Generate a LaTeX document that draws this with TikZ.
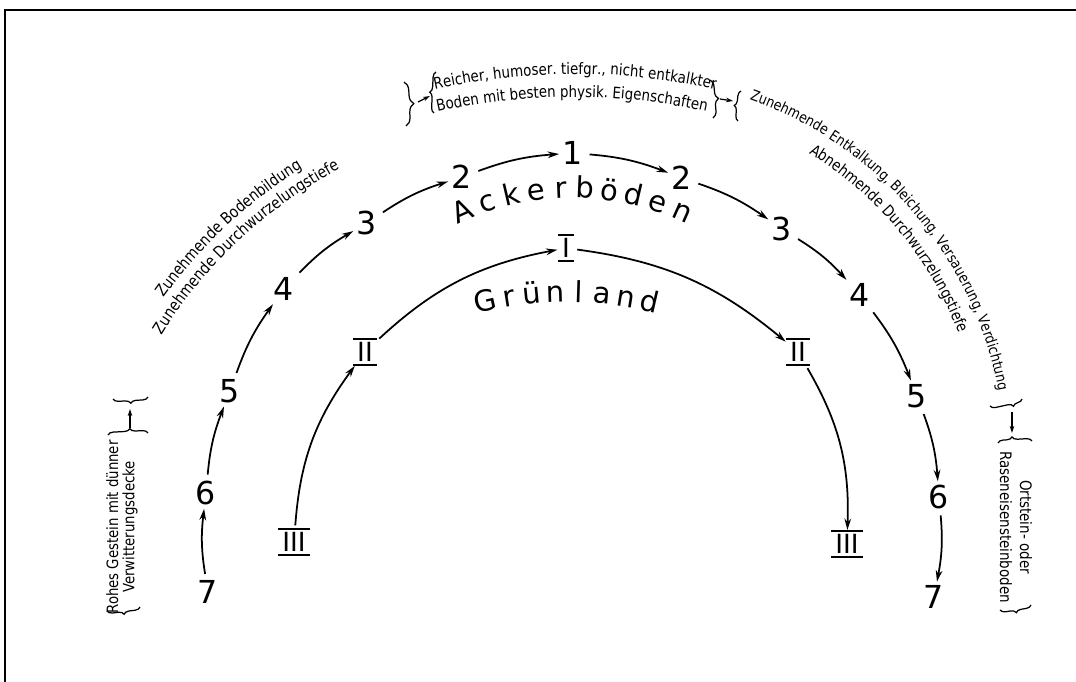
\documentclass[tikz,border=0pt]{standalone}
\usepackage{fontspec}
\setmainfont{DejaVu Sans}
\newfontfamily\hand[FakeStretch=0.85]{DejaVu Sans}
\usetikzlibrary{arrows.meta,decorations.text,decorations.pathreplacing,calc}
\newcommand{\fntTop}{\hand\fontsize{9}{10}\selectfont}
\newcommand{\fntLeft}{\hand\fontsize{9.2}{11}\selectfont}
\newcommand{\fntRa}{\hand\fontsize{8.4}{10}\selectfont}
\newcommand{\fntRb}{\hand\fontsize{8.9}{10}\selectfont}
\newcommand{\fntSide}{\hand\fontsize{8.9}{9.3}\selectfont}
\newcommand{\fntOrt}{\hand\fontsize{9}{11.3}\selectfont}
\begin{document}
\begin{tikzpicture}[x=0.02cm,y=-0.02cm,
  num/.style={font=\fontsize{18}{18}\selectfont, inner sep=1.5pt},
  rom/.style={font=\fontsize{15}{15}\selectfont, inner xsep=2pt, inner ysep=1.8pt,
    append after command={\pgfextra{\let\romnode\tikzlastnode}
      (\romnode.north west) edge[line width=1.4pt] (\romnode.north east)
      (\romnode.south west) edge[line width=1.4pt] (\romnode.south east)}},
  arr/.style={-{Stealth[length=6.5pt,width=3.8pt]}, line width=1pt, shorten <=2pt, shorten >=0.5pt},
  sarr/.style={-{Stealth[length=4pt,width=2.6pt]}, line width=0.7pt},
  brc/.style={decorate, decoration={brace, amplitude=#1}, line width=0.7pt},
  brc/.default=3pt,
  big/.style={font=\fontsize{16.5}{16.5}\selectfont, inner sep=0pt, anchor=base},
]
\useasboundingbox (0,0) rectangle (1076,682);
\fill[white] (0,0) rectangle (1076,682);
\draw[line width=1.1pt] (5,682) -- (5,10) -- (1076,10);

% outer chain (Ackerboeden)
\node[num] (o7L) at (208,592) {7};
\node[num] (o6L) at (206,493) {6};
\node[num] (o5L) at (230,391) {5};
\node[num] (o4L) at (284,289) {4};
\node[num] (o3L) at (367,223) {3};
\node[num] (o2L) at (462,177) {2};
\node[num] (o1) at (573,153) {1};
\node[num] (o2R) at (682,178) {2};
\node[num] (o3R) at (782,229) {3};
\node[num] (o4R) at (860,295) {4};
\node[num] (o5R) at (917,396) {5};
\node[num] (o6R) at (939,497) {6};
\node[num] (o7R) at (934,597) {7};

% inner chain (Gruenland)
\node[rom] (g3L) at (294,542) {III};
\node[rom] (g2L) at (365,352) {II};
\node[rom] (g1) at (566,248) {I};
\node[rom] (g2R) at (798,352) {II};
\node[rom] (g3R) at (847,544) {III};

\foreach \a/\b in {o7L/o6L,o6L/o5L,o5L/o4L,o4L/o3L,o3L/o2L,o2L/o1,o1/o2R,o2R/o3R,o3R/o4R,o4R/o5R,o5R/o6R,o6R/o7R}
  \draw[arr] (\a) to[bend left=8] (\b);
\foreach \a/\b in {g3L/g2L,g2L/g1,g1/g2R,g2R/g3R}
  \draw[arr] (\a) to[bend left=16] (\b);

% curved big labels
\foreach \ch [count=\i] in {A,c,k,e,r,b,ö,d,e,n}{
  \pgfmathsetmacro\px{467+(\i-1)*23.5}
  \pgfmathsetmacro\myang{asin((\px-573)/261)}
  \pgfmathsetmacro\myrot{asin((573-\px)/261)}
  \node[big, rotate=\myrot] (ack\i) at ({\px},{459-261*cos(\myang)}) {\ch};
}
\foreach \ch [count=\i] in {G,r,ü,n,l,a,n,d}{
  \pgfmathsetmacro\px{487+(\i-1)*22.9}
  \pgfmathsetmacro\myang{asin((\px-567)/360)}
  \pgfmathsetmacro\myrot{asin((567-\px)/360)}
  \node[big, rotate=\myrot] (gru\i) at ({\px},{662-360*cos(\myang)}) {\ch};
}

% texts along arcs
\path[decorate, decoration={text along path, text align=center,
  text={|\fntTop|Reicher, humoser. tiefgr., nicht entkalkter}}]
  ($(575,712)+(-107:638)$) arc[start angle=-107, end angle=-73, radius=638];
\path[decorate, decoration={text along path, text align=center,
  text={|\fntTop|Boden mit besten physik. Eigenschaften}}]
  ($(572,722)+(-107:625)$) arc[start angle=-107, end angle=-73, radius=625];
\path[decorate, decoration={text along path, text align=center,
  text={|\fntLeft|Zunehmende Bodenbildung}}]
  ($(560,584)+(-163:489)$) arc[start angle=-163, end angle=-103, radius=489];
\path[decorate, decoration={text along path, text align=center,
  text={|\fntLeft|Zunehmende Durchwurzelungstiefe}}]
  ($(560,584)+(-163:470)$) arc[start angle=-163, end angle=-103, radius=470];
\path[decorate, decoration={text along path, text align=center,
  text={|\fntRa|Zunehmende Entkalkung, Bleichung, Versauerung, Verdichtung}}]
  ($(620,462)+(-82.5:385)$) arc[start angle=-82.5, end angle=1.5, radius=385];
\path[decorate, decoration={text along path, text align=center,
  text={|\fntRb|Abnehmende Durchwurzelungstiefe}}]
  ($(620,462)+(-79.7:362)$) arc[start angle=-79.7, end angle=0.3, radius=362];

% side blocks
\node[rotate=90, align=center, font=\fntSide, inner sep=0pt] (rohes) at (122,527) {Rohes Gestein mit dünner\\Verwitterungsdecke};
\node[rotate=-90, align=center, font=\fntOrt, inner sep=0pt] (ort) at (1016,527) {Ortstein- oder\\Raseneisensteinboden};

% braces and small arrows: top left
\coordinate (tlA) at (404,82); \coordinate (tlB) at (406,126);
\draw[brc=5pt] (tlA) -- (tlB);
\coordinate (tlC) at (434,113); \coordinate (tlD) at (436,72);
\draw[brc=3pt] (tlC) -- (tlD);
\coordinate (tlE) at (418,102); \coordinate (tlF) at (430,96);
\draw[sarr] (tlE) -- (tlF);
% top right
\coordinate (trA) at (710,80); \coordinate (trB) at (713,118);
\draw[brc=4pt] (trA) -- (trB);
\coordinate (trC) at (738,121); \coordinate (trD) at (741,91);
\draw[brc=3pt] (trC) -- (trD);
\coordinate (trE) at (720,99); \coordinate (trF) at (733,101);
\draw[sarr] (trE) -- (trF);
% right lower
\coordinate (rlA) at (1022,399); \coordinate (rlB) at (990,406);
\draw[brc=3pt, decoration={aspect=0.3}] (rlA) -- (rlB);
\coordinate (rlC) at (998,443); \coordinate (rlD) at (1032,441);
\draw[brc=3pt, decoration={aspect=0.42}] (rlC) -- (rlD);
\coordinate (rlE) at (1012,412); \coordinate (rlF) at (1012,433);
\draw[sarr] (rlE) -- (rlF);
\coordinate (rlG) at (1031,605); \coordinate (rlH) at (1000,610);
\draw[brc=3pt] (rlG) -- (rlH);
% left lower
\coordinate (llA) at (108,435); \coordinate (llB) at (148,433);
\draw[brc=3pt, decoration={aspect=0.55}] (llA) -- (llB);
\coordinate (llC) at (148,397); \coordinate (llD) at (113,399);
\draw[brc=3pt] (llC) -- (llD);
\coordinate (llE) at (130,428); \coordinate (llF) at (130,409);
\draw[sarr] (llE) -- (llF);
\coordinate (llG) at (140,607); \coordinate (llH) at (107,611);
\draw[brc=3pt] (llG) -- (llH);
\end{tikzpicture}
\end{document}
